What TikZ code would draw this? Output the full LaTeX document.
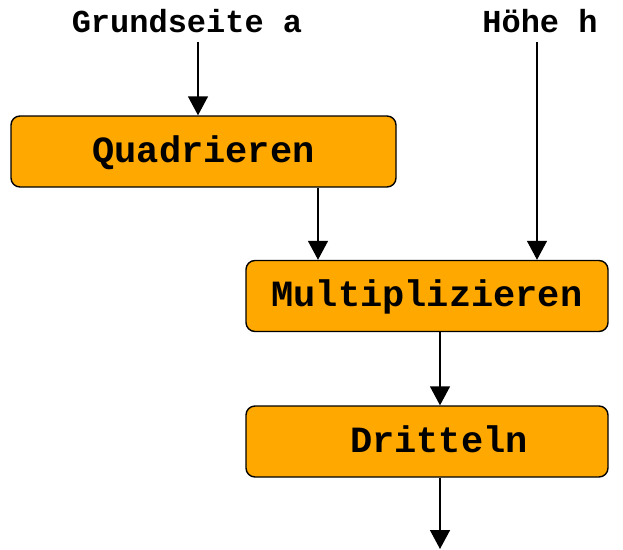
\documentclass[tikz,border=0pt]{standalone}
\usepackage{fontspec}
\setmonofont{Liberation Mono}
\usetikzlibrary{arrows.meta}
\definecolor{boxorange}{HTML}{FFA800}

\begin{document}
\begin{tikzpicture}[x=1pt,y=-1pt,line width=1.4pt,
  arr/.style={-{Triangle[width=20pt,length=19pt]}},
  step box/.style={draw,fill=boxorange,rounded corners=9pt,minimum height=71pt,
    text height=21pt,text depth=0pt,font=\fontsize{37}{40}\ttfamily\bfseries},
  input/.style={anchor=base,font=\fontsize{32}{36}\ttfamily\bfseries}]
\useasboundingbox (0,0) rectangle (623,549);

% inputs
  \node[input] (grund) at (187,32) {Grundseite a};
  \node[input] (hoehe) at (540,32) {Höhe h};

% steps
  \node[step box,minimum width=385pt] (quad) at (203.5,151.5) {Quadrieren};
  \node[step box,minimum width=362pt] (mult) at (427,296) {Multiplizieren};
  \node[step box,minimum width=362pt] (dritt) at (427,441.5) {\hspace*{24pt}Dritteln};

% helper points for the arrows
  \coordinate (ga) at (198,42);
  \coordinate (hh) at (537,42);
  \coordinate (qm) at (318,0);
  \coordinate (md) at (440,0);
  \coordinate (out) at (440,549);

  \draw[arr] (ga) -- (ga |- quad.north);
  \draw[arr] (qm |- quad.south) -- (qm |- mult.north);
  \draw[arr] (hh) -- (hh |- mult.north);
  \draw[arr] (md |- mult.south) -- (md |- dritt.north);
  \draw[arr] (md |- dritt.south) -- (out);
\end{tikzpicture}
\end{document}
